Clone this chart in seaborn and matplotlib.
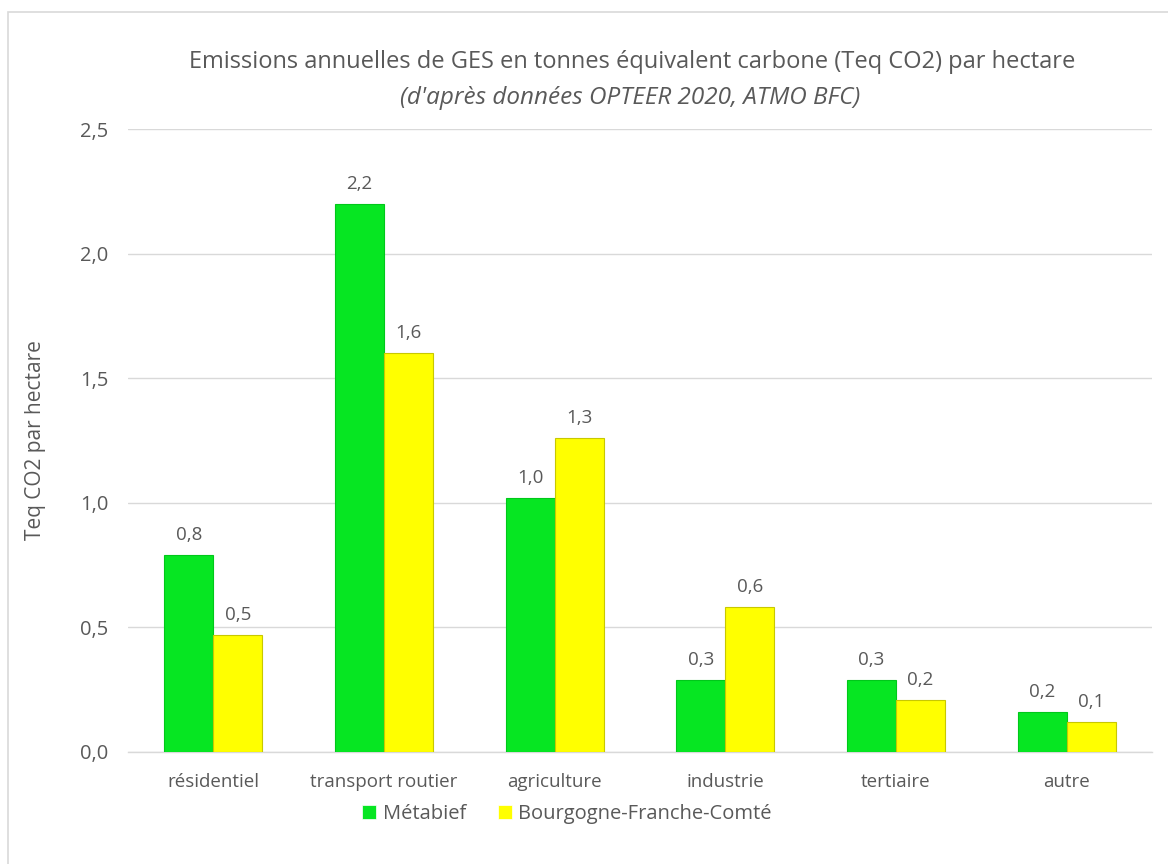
import matplotlib
matplotlib.use("Agg")
import matplotlib.pyplot as plt
import seaborn as sns
import pandas as pd
from matplotlib.ticker import FuncFormatter, MultipleLocator
from matplotlib.patches import Rectangle

categories = ["résidentiel", "transport routier", "agriculture", "industrie", "tertiaire", "autre"]
series_names = ["Métabief", "Bourgogne-Franche-Comté"]
metabief = [0.79, 2.20, 1.02, 0.29, 0.29, 0.16]
bfc = [0.47, 1.60, 1.26, 0.58, 0.21, 0.12]
title_line1 = "Emissions annuelles de GES en tonnes équivalent carbone (Teq CO2) par hectare"
title_line2 = "(d'après données OPTEER 2020, ATMO BFC)"
ylabel = "Teq CO2 par hectare"

colors = ["#06E622", "#FFFF00"]
edges = ["#00C81A", "#C8C800"]
text_col = "#595959"
grid_col = "#D9D9D9"

df = pd.DataFrame({
    "cat": categories * 2,
    "val": metabief + bfc,
    "serie": [series_names[0]] * len(categories) + [series_names[1]] * len(categories),
})

sns.set_theme(style="white")
plt.rcParams["font.family"] = ["Open Sans", "DejaVu Sans"]

fig = plt.figure(figsize=(11.68, 8.64), dpi=100)
ax = fig.add_axes([128 / 1168, 1 - 752 / 864, 1024 / 1168, (752 - 129) / 864])

sns.barplot(data=df, x="cat", y="val", hue="serie", palette=colors, width=0.574,
            saturation=1, dodge=True, ax=ax, legend=True, zorder=3)

for cont, ec, vals in zip(ax.containers, edges, [metabief, bfc]):
    for p in cont:
        p.set_edgecolor(ec)
        p.set_linewidth(0.8)
    ax.bar_label(cont, labels=[f"{v:.1f}".replace(".", ",") for v in vals],
                 padding=8, fontsize=13.5, color=text_col)

ax.set_ylim(0, 2.5)
ax.yaxis.set_major_locator(MultipleLocator(0.5))
ax.yaxis.set_major_formatter(FuncFormatter(lambda v, p: f"{v:.1f}".replace(".", ",")))
ax.grid(axis="y", color=grid_col, linewidth=1, zorder=0)
ax.set_axisbelow(True)
for s in ["top", "right", "left"]:
    ax.spines[s].set_visible(False)
ax.spines["bottom"].set_color(grid_col)
ax.spines["bottom"].set_linewidth(1)
ax.tick_params(axis="x", length=0, labelsize=13.5, colors=text_col, pad=15)
ax.tick_params(axis="y", length=0, labelsize=14.5, colors=text_col, pad=14)
for t in ax.get_xticklabels() + ax.get_yticklabels():
    t.set_color(text_col)
ax.set_xlabel("")
ax.set_ylabel(ylabel, fontsize=15, color=text_col)
ax.yaxis.set_label_coords(-0.08, 0.5)

leg = ax.legend(loc="center", bbox_to_anchor=(567 / 1168, 1 - 814 / 864),
                bbox_transform=fig.transFigure, ncol=2, frameon=False,
                fontsize=14.5, handlelength=0.7, handleheight=0.7, handletextpad=0.3,
                columnspacing=1.6, labelcolor=text_col)
for h in leg.legend_handles:
    h.set_linewidth(0.5)

fig.text(632 / 1168, 1 - 62 / 864, title_line1, ha="center", va="center",
         fontsize=17, color=text_col)
fig.text(630 / 1168, 1 - 98 / 864, title_line2, ha="center", va="center",
         fontsize=17.5, color=text_col, style="italic")

fig.add_artist(Rectangle((8 / 1168, -0.1), 1.2, (864 - 12) / 864 + 0.1,
                         transform=fig.transFigure, fill=False,
                         edgecolor=grid_col, linewidth=1.2))

fig.savefig("out.png", dpi=100, facecolor="white")
